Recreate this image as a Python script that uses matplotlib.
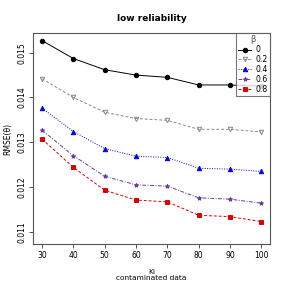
import matplotlib
matplotlib.use("Agg")
import matplotlib.pyplot as plt

ki = [30, 40, 50, 60, 70, 80, 90, 100]
betas = ["0", "0.2", "0.4", "0.6", "0.8"]
rmse_b0 = [0.01527, 0.01487, 0.01462, 0.01450, 0.01445, 0.01428, 0.01428, 0.01425]
rmse_b02 = [0.01442, 0.01400, 0.01367, 0.01353, 0.01349, 0.01329, 0.01329, 0.01323]
rmse_b04 = [0.01376, 0.01324, 0.01286, 0.01269, 0.01266, 0.01242, 0.01240, 0.01235]
rmse_b06 = [0.01327, 0.01270, 0.01224, 0.01205, 0.01202, 0.01176, 0.01173, 0.01164]
rmse_b08 = [0.01307, 0.01244, 0.01193, 0.01171, 0.01167, 0.01137, 0.01134, 0.01123]
yticks = [0.011, 0.012, 0.013, 0.014, 0.015]

series = [rmse_b0, rmse_b02, rmse_b04, rmse_b06, rmse_b08]
colors = ["black", "#888888", "#0000ee", "#6a3d9a", "#dd0000"]
markers = ["o", "v", "^", "*", "s"]
mfc = ["black", "none", "#0000ee", "#6a3d9a", "#dd0000"]
styles = ["-", (0, (3, 2)), (0, (1, 1.5)), (0, (4, 1.5, 1, 1.5)), (0, (3, 2))]

fig = plt.figure(figsize=(2.87, 2.87), dpi=100)
ax = fig.add_axes([0.116, 0.150, 0.825, 0.735])
for s, c, m, f, ls, b in zip(series, colors, markers, mfc, styles, betas):
    ax.plot(ki, s, color=c, marker=m, markerfacecolor=f, markeredgecolor=c,
            linestyle=ls, linewidth=0.7, markersize=3.2, markeredgewidth=0.7, label=b)

ax.set_xlim(27.2, 102.8)
ax.set_ylim(0.01073, 0.01544)
ax.set_xticks(ki)
ax.set_yticks(yticks)
ax.set_yticklabels([f"{v:.3f}" for v in yticks], rotation=90, va="center")
ax.tick_params(labelsize=5.5, length=3, width=0.6, color="#333333", pad=2)
for sp in ax.spines.values():
    sp.set_linewidth(0.8)
    sp.set_color("#555555")

ax.set_title("low reliability", fontsize=6.5, fontweight="bold", pad=9)
ax.set_xlabel("Ki\ncontaminated data", fontsize=5.3, labelpad=6.5, linespacing=1.0)
ax.set_ylabel("RMSE(θ)", fontsize=5.5, labelpad=4)

leg = ax.legend(title="β", loc="upper right", bbox_to_anchor=(1.0, 1.0),
                fontsize=5.6, title_fontsize=6.2, frameon=True, fancybox=False,
                handlelength=1.7, handletextpad=0.5, borderpad=0.3,
                labelspacing=0.12, borderaxespad=0.0)
leg.get_frame().set_edgecolor("#555555")
leg.get_frame().set_linewidth(0.8)
leg.get_title().set_color("#555555")

fig.savefig("out.png", dpi=100)
